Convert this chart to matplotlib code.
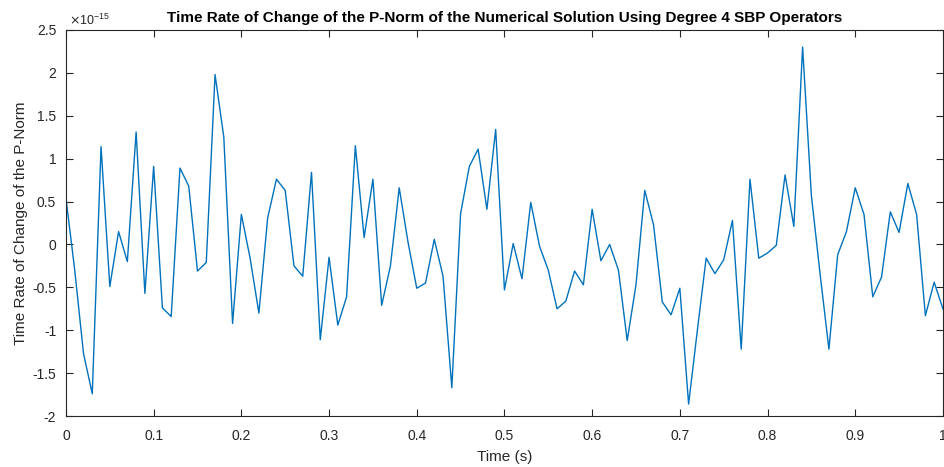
import numpy as np
import matplotlib.pyplot as plt
from matplotlib.ticker import FuncFormatter

plt.rcParams['font.family'] = ['Liberation Sans', 'DejaVu Sans']
plt.rcParams['axes.unicode_minus'] = False

## time samples (s)
t = np.linspace(0, 1, 101)
## dP/dt (units of 1e-15)
dpdt = np.array([
    0.54, -0.30, -1.27, -1.74, 1.14, -0.49, 0.15, -0.20, 1.31, -0.57,
    0.91, -0.74, -0.84, 0.89, 0.68, -0.31, -0.21, 1.98, 1.25, -0.92,
    0.35, -0.16, -0.80, 0.31, 0.76, 0.63, -0.25, -0.37, 0.84, -1.11,
    -0.15, -0.94, -0.61, 1.15, 0.08, 0.76, -0.71, -0.25, 0.66, 0.03,
    -0.51, -0.45, 0.06, -0.37, -1.67, 0.36, 0.91, 1.11, 0.41, 1.34,
    -0.53, 0.01, -0.40, 0.49, -0.02, -0.30, -0.75, -0.66, -0.31, -0.47,
    0.41, -0.19, 0.00, -0.30, -1.12, -0.47, 0.63, 0.23, -0.67, -0.82,
    -0.51, -1.86, -1.00, -0.16, -0.34, -0.18, 0.28, -1.22, 0.76, -0.16,
    -0.10, -0.01, 0.81, 0.21, 2.30, 0.57, -0.35, -1.22, -0.12, 0.15,
    0.66, 0.35, -0.61, -0.38, 0.38, 0.14, 0.71, 0.35, -0.83, -0.44,
    -0.75,
]) * 1e-15
scale = 1e-15

xticks = np.arange(0, 1.01, 0.1)
yticks = np.arange(-2, 2.51, 0.5) * scale

title = "Time Rate of Change of the P-Norm of the Numerical Solution Using Degree 4 SBP Operators"
xlab = "Time (s)"
ylab = "Time Rate of Change of the P-Norm"

axcol = (0.15, 0.15, 0.15)

fig = plt.figure(figsize=(9.45, 4.67), dpi=100)
ax = fig.add_axes([0.0698, 0.109, 0.928, 0.827])
ax.plot(t, dpdt, color="#0072BD", linewidth=1.0)

ax.set_xlim(0, 1)
ax.set_ylim(-2 * scale, 2.5 * scale)
ax.set_xticks(xticks)
ax.set_yticks(yticks)
ax.xaxis.set_major_formatter(FuncFormatter(lambda v, p: f"{v:g}"))
ax.yaxis.set_major_formatter(FuncFormatter(lambda v, p: f"{round(v / scale, 2):g}"))
ax.tick_params(direction="in", top=True, right=True, length=5, width=0.8,
               labelsize=10, colors=axcol)
ax.tick_params(axis="x", pad=9)
ax.tick_params(axis="y", pad=7)
for s in ax.spines.values():
    s.set_color(axcol)
    s.set_linewidth(0.8)

ax.text(0.003, 1.005, r"$\times$10$^{\mathdefault{-15}}$", transform=ax.transAxes,
        fontsize=9, color=axcol, ha="left", va="bottom")
ax.set_title(title, fontsize=11, fontweight="bold", pad=6)
ax.set_xlabel(xlab, fontsize=11, color=axcol, labelpad=5)
ax.set_ylabel(ylab, fontsize=11, color=axcol, labelpad=3)

fig.savefig("out.png", dpi=100)
